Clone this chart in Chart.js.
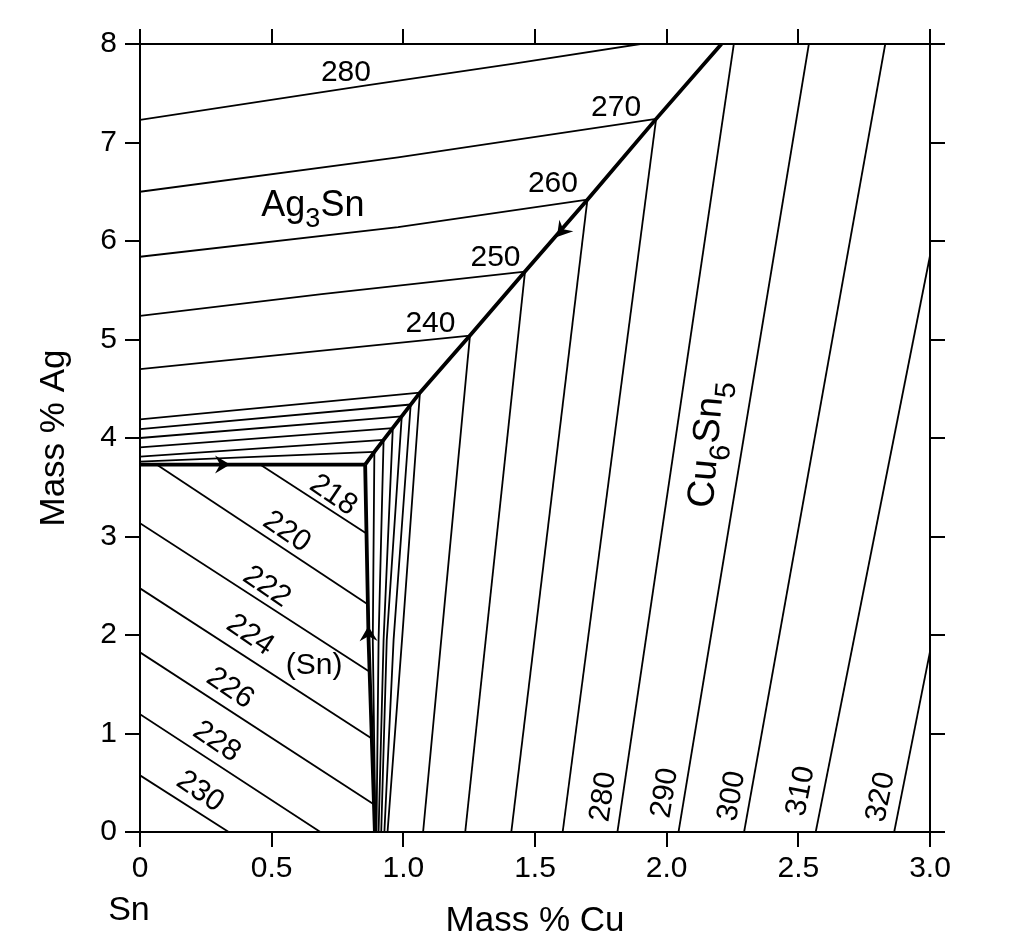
<!DOCTYPE html>
<html>
<head>
<meta charset="utf-8">
<script src="https://cdn.jsdelivr.net/npm/chart.js@4.4.1/dist/chart.umd.min.js"></script>
<style>
html,body{margin:0;padding:0;background:#fff}
canvas{display:block}
</style>
</head>
<body>
<canvas id="liquidus" width="1022" height="951"></canvas>
<script>
// axis ticks
const xTickLabels = ['0','0.5','1.0','1.5','2.0','2.5','3.0']
const yTickLabels = ['0','1','2','3','4','5','6','7','8']

// Ag3Sn primary surface isotherms, left axis -> eutectic valley (mass % Cu, mass % Ag)
const ag3snTemps = [280,270,260,250,240]
const ag3snIsotherms = [
[[0,7.23],[0.86,7.58],[1.42,7.80],[1.90,8.0]],
[[0,6.50],[0.98,6.85],[1.96,7.24]],
[[0,5.84],[0.98,6.14],[1.699,6.42]],
[[0,5.24],[0.69,5.46],[1.462,5.69]],
[[0,4.70],[1.253,5.04]]
]
// closely spaced Ag3Sn isotherms just above the ternary eutectic
const ag3snFine = [
[[0,4.19],[1.063,4.46]],
[[0,4.09],[1.028,4.34]],
[[0,4.00],[0.994,4.22]],
[[0,3.905],[0.96,4.10]],
[[0,3.81],[0.925,3.98]],
[[0,3.76],[0.89,3.86]]
]
// matching Cu6Sn5 isotherms from the same valley points
const cu6sn5Fine = [
[[1.063,4.46],[0.995,1.95],[0.94,0]],
[[1.028,4.34],[0.963,1.95],[0.928,0]],
[[0.994,4.22],[0.937,1.95],[0.916,0]],
[[0.96,4.10],[0.925,1.95],[0.906,0]],
[[0.925,3.98],[0.906,1.95],[0.898,0]],
[[0.89,3.86],[0.884,1.95],[0.894,0]]
]
// Cu6Sn5 primary surface isotherms
const cu6sn5Temps = [240,250,260,270,280,290,300,310,320]
const cu6sn5Isotherms = [
[[1.075,0],[1.253,5.04]],
[[1.235,0],[1.462,5.69]],
[[1.41,0],[1.699,6.42]],
[[1.605,0],[1.96,7.24]],
[[1.813,0],[2.255,8]],
[[2.045,0],[2.54,8]],
[[2.294,0],[2.83,8]],
[[2.566,0],[3.0,5.85]],
[[2.864,0],[3.0,1.83]]
]
// (Sn) primary surface isotherms
const snTemps = [218,220,222,224,226,228,230]
const snIsotherms = [
[[0.456,3.73],[0.86,3.03]],
[[0.063,3.73],[0.866,2.31]],
[[0,3.134],[0.872,1.627]],
[[0,2.474],[0.88,0.95]],
[[0,1.824],[0.889,0.28]],
[[0,1.195],[0.685,0]],
[[0,0.575],[0.337,0]]
]
// univariant valleys (bold)
const valleyAgCu = [[0.855,3.73],[0.89,3.86],[1.063,4.46],[1.253,5.04],[1.462,5.69],[1.699,6.42],[1.96,7.24],[2.208,8]]
const valleySnAg = [[0,3.73],[0.855,3.73]]
const valleySnCu = [[0.855,3.73],[0.868,1.95],[0.892,0]]

// label anchors (mass % Cu, mass % Ag)
const ag3snLabelPos = [[0.782,7.711],[1.808,7.356],[1.568,6.579],[1.350,5.835],[1.103,5.159]]
const snLabelPos = [[0.734,3.418],[0.557,3.046],[0.481,2.488],[0.418,1.998],[0.342,1.457],[0.291,0.916],[0.228,0.409]]
const cuLabelTemps = [280,290,300,310,320]
const cuLabelPos = [[1.760,0.358],[1.994,0.396],[2.248,0.365],[2.510,0.416],[2.814,0.355]]
const cuLabelTilt = [-82,-81,-80,-79,-78]

// arrows: [from x, from y, tip x, tip y]
const arrows = [
[0.20,3.73,0.342,3.73],
[0.869,1.80,0.867,2.09],
[1.699,6.42,1.583,6.04]
]

const FONT='"Liberation Sans", Arial, Helvetica, sans-serif'

function pts(line){
return line.map(p=>({x:p[0],y:p[1]}))
}

function lineSet(line,w){
return {
data:pts(line),
showLine:true,
borderColor:"#000",
borderWidth:w,
pointRadius:0,
fill:false,
tension:0,
xAxisID:"x",
yAxisID:"y"
}
}

let datasets=[]
ag3snIsotherms.forEach(l=>datasets.push(lineSet(l,1.8)))
ag3snFine.forEach(l=>datasets.push(lineSet(l,1.8)))
cu6sn5Fine.forEach(l=>datasets.push(lineSet(l,1.8)))
cu6sn5Isotherms.forEach(l=>datasets.push(lineSet(l,1.8)))
snIsotherms.forEach(l=>datasets.push(lineSet(l,1.8)))
datasets.push(lineSet(valleyAgCu,3.8))
datasets.push(lineSet(valleySnAg,3.8))
datasets.push(lineSet(valleySnCu,3.8))

function text(ctx,s,x,y,size,angle,align,base){
ctx.save()
ctx.translate(x,y)
ctx.rotate(angle*Math.PI/180)
ctx.font=size+"px "+FONT
ctx.textAlign=align||"center"
ctx.textBaseline=base||"middle"
ctx.fillText(s,0,0)
ctx.restore()
}

// formula with subscripts, centred on x, baseline on y
function formula(ctx,parts,x,y,size,angle){
const sub=Math.round(size*0.75)
ctx.save()
ctx.translate(x,y)
ctx.rotate(angle*Math.PI/180)
ctx.textBaseline="alphabetic"
ctx.textAlign="left"
let w=0
parts.forEach(p=>{
ctx.font=(p[1]?sub:size)+"px "+FONT
w+=ctx.measureText(p[0]).width
})
let cx=-w/2
parts.forEach(p=>{
ctx.font=(p[1]?sub:size)+"px "+FONT
ctx.fillText(p[0],cx,p[1]?size*0.32:0)
cx+=ctx.measureText(p[0]).width
})
ctx.restore()
}

const annotate={
id:"annotate",
afterDatasetsDraw(chart){
const ctx=chart.ctx
const sx=chart.scales.x
const sy=chart.scales.y
const X=v=>sx.getPixelForValue(v)
const Y=v=>sy.getPixelForValue(v)
ctx.save()
ctx.fillStyle="#000"

ag3snTemps.forEach((t,i)=>{
text(ctx,String(t),X(ag3snLabelPos[i][0]),Y(ag3snLabelPos[i][1]),30,0)
})
snTemps.forEach((t,i)=>{
text(ctx,String(t),X(snLabelPos[i][0]),Y(snLabelPos[i][1]),30,34)
})
cuLabelTemps.forEach((t,i)=>{
text(ctx,String(t),X(cuLabelPos[i][0]),Y(cuLabelPos[i][1]),30,cuLabelTilt[i])
})
text(ctx,"(Sn)",X(0.661),Y(1.684),30,0)
formula(ctx,[["Ag",0],["3",1],["Sn",0]],X(0.6565),Y(6.258),36,0)
formula(ctx,[["Cu",0],["6",1],["Sn",0],["5",1]],X(2.195),Y(3.925),38,-85)
text(ctx,"Sn",X(-0.042),Y(-0.893),34,0,"center","alphabetic")

arrows.forEach(a=>{
const x0=X(a[0]),y0=Y(a[1]),x1=X(a[2]),y1=Y(a[3])
ctx.save()
ctx.translate(x1,y1)
ctx.rotate(Math.atan2(y1-y0,x1-x0))
ctx.beginPath()
ctx.moveTo(0,0)
ctx.lineTo(-15,-9)
ctx.lineTo(-10,0)
ctx.lineTo(-15,9)
ctx.closePath()
ctx.fill()
ctx.restore()
})
ctx.restore()
}
}

function frameGrid(){
return {drawOnChartArea:false,drawTicks:true,tickLength:15,color:"#000",lineWidth:2}
}
const frameBorder={display:true,color:"#000",width:2}

const chart=new Chart(document.getElementById("liquidus").getContext("2d"),{
type:"scatter",
data:{datasets:datasets},
plugins:[annotate],
options:{
responsive:false,
animation:false,
devicePixelRatio:1,
layout:{padding:0},
plugins:{legend:{display:false},tooltip:{enabled:false}},
scales:{
x:{
type:"linear",position:"bottom",min:0,max:3,
ticks:{stepSize:0.5,autoSkip:false,maxRotation:0,padding:4,color:"#000",font:{family:FONT,size:30},
callback:(v,i)=>xTickLabels[i]},
grid:frameGrid(),border:frameBorder,
title:{display:true,text:"Mass % Cu",color:"#000",font:{family:FONT,size:35},padding:{top:0,bottom:9}},
afterFit:s=>{s.height=119}
},
x2:{
type:"linear",position:"top",min:0,max:3,
ticks:{stepSize:0.5,display:false},
grid:frameGrid(),border:frameBorder,
afterFit:s=>{s.height=44}
},
y:{
type:"linear",position:"left",min:0,max:8,
ticks:{stepSize:1,autoSkip:false,padding:8,color:"#000",font:{family:FONT,size:30},
callback:(v,i)=>yTickLabels[i]},
grid:frameGrid(),border:frameBorder,
title:{display:true,text:"Mass % Ag",color:"#000",font:{family:FONT,size:35},padding:{top:33,bottom:0}},
afterFit:s=>{s.width=140}
},
y2:{
type:"linear",position:"right",min:0,max:8,
ticks:{stepSize:1,display:false},
grid:frameGrid(),border:frameBorder,
afterFit:s=>{s.width=92}
}
}
}
})
</script>
</body>
</html>
